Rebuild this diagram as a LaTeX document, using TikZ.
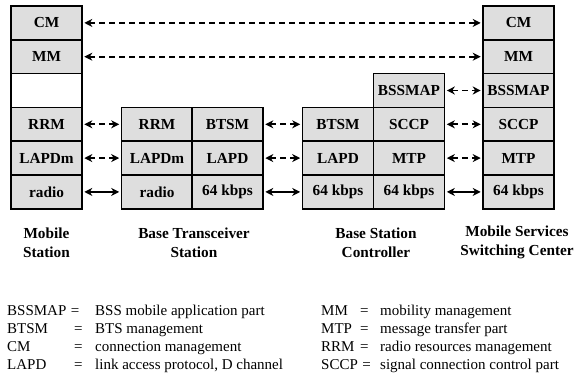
\documentclass[tikz,border=0pt]{standalone}
\usepackage{fontspec}
\setmainfont{Liberation Serif}
\usetikzlibrary{arrows.meta}
\begin{document}
\begin{tikzpicture}[x=1pt,y=-1pt,
  cell/.style={draw=black, line width=1.6pt, fill=black!13, minimum width=71pt, minimum height=33.8pt,
    inner sep=0pt, font=\fontsize{15.3}{17}\selectfont\bfseries},
  blankcell/.style={cell, fill=white},
  link/.style={line width=1.8pt, {Stealth[length=8pt,width=8pt,inset=2.5pt]}-{Stealth[length=8pt,width=8pt,inset=2.5pt]}, shorten <=1.5pt, shorten >=1.5pt},
  dlink/.style={link, dash pattern=on 6pt off 4pt},
  caption/.style={align=center, font=\fontsize{15.3}{19}\selectfont\bfseries, inner sep=0pt},
  leg/.style={anchor=base west, inner sep=0pt, font=\fontsize{15}{17}\selectfont}
]
\useasboundingbox (0,0) rectangle (575,374);
% Mobile Station
\node[cell] (msCM) at (46.5,22.9) {CM};
\node[cell] (msMM) at (46.5,56.7) {MM};
\node[blankcell] (msX) at (46.5,90.5) {};
\node[cell] (msRRM) at (46.5,124.3) {RRM};
\node[cell] (msLAPDm) at (46.5,158.1) {LAPDm};
\node[cell] (msRadio) at (46.5,191.9) {radio};
% BTS
\node[cell] (btsRRM) at (157,124.3) {RRM};
\node[cell] (btsLAPDm) at (157,158.1) {LAPDm};
\node[cell] (btsRadio) at (157,191.9) {radio};
\node[cell] (btsBTSM) at (227.5,124.3) {BTSM};
\node[cell] (btsLAPD) at (227.5,158.1) {LAPD};
\node[cell] (btsK) at (227.5,191.9) {64 kbps};
% BSC
\node[cell] (bscBTSM) at (338,124.3) {BTSM};
\node[cell] (bscLAPD) at (338,158.1) {LAPD};
\node[cell] (bscK) at (338,191.9) {64 kbps};
\node[cell] (bscBSSMAP) at (409,90.5) {BSSMAP};
\node[cell] (bscSCCP) at (409,124.3) {SCCP};
\node[cell] (bscMTP) at (409,158.1) {MTP};
\node[cell] (bscK2) at (409,191.9) {64 kbps};
% MSC
\node[cell] (mscCM) at (518.5,22.9) {CM};
\node[cell] (mscMM) at (518.5,56.7) {MM};
\node[cell] (mscBSSMAP) at (518.5,90.5) {BSSMAP};
\node[cell] (mscSCCP) at (518.5,124.3) {SCCP};
\node[cell] (mscMTP) at (518.5,158.1) {MTP};
\node[cell] (mscK) at (518.5,191.9) {64 kbps};
% links
\draw[dlink] (msCM.east) -- (mscCM.west);
\draw[dlink] (msMM.east) -- (mscMM.west);
\draw[dlink] (msRRM.east) -- (btsRRM.west);
\draw[dlink] (msLAPDm.east) -- (btsLAPDm.west);
\draw[link] (msRadio.east) -- (btsRadio.west);
\draw[dlink] (btsBTSM.east) -- (bscBTSM.west);
\draw[dlink] (btsLAPD.east) -- (bscLAPD.west);
\draw[link] (btsK.east) -- (bscK.west);
\draw[dlink] (bscBSSMAP.east) -- (mscBSSMAP.west);
\draw[dlink] (bscSCCP.east) -- (mscSCCP.west);
\draw[dlink] (bscMTP.east) -- (mscMTP.west);
\draw[link] (bscK2.east) -- (mscK.west);
% captions
\node[caption] (capMS) at (46.5,242.5) {Mobile\\Station};
\node[caption] (capBTS) at (194,242.5) {Base Transceiver\\Station};
\node[caption] (capBSC) at (376,242.5) {Base Station\\Controller};
\node[caption] (capMSC) at (517,242.5) {Mobile Services\\Switching Center};
% legend
\node[leg] (a1) at (7,315.5) {BSSMAP};
\node[leg] (e1) at ([xshift=4pt]a1.base east) {=};
\node[leg] (d1) at (95,315.5) {BSS mobile application part};
\node[leg] (a2) at (7,333.6) {BTSM};
\node[leg] (e2) at (74,333.6) {=};
\node[leg] (d2) at (95,333.6) {BTS management};
\node[leg] (a3) at (7,351.7) {CM};
\node[leg] (e3) at (74,351.7) {=};
\node[leg] (d3) at (95,351.7) {connection management};
\node[leg] (a4) at (7,369.8) {LAPD};
\node[leg] (e4) at (74,369.8) {=};
\node[leg] (d4) at (95,369.8) {link access protocol, D channel};
\node[leg] (a5) at (321,315.5) {MM};
\node[leg] (e5) at (360,315.5) {=};
\node[leg] (d5) at (380,315.5) {mobility management};
\node[leg] (a6) at (321,333.6) {MTP};
\node[leg] (e6) at (360,333.6) {=};
\node[leg] (d6) at (380,333.6) {message transfer part};
\node[leg] (a7) at (321,351.7) {RRM};
\node[leg] (e7) at (360,351.7) {=};
\node[leg] (d7) at (380,351.7) {radio resources management};
\node[leg] (a8) at (321,369.8) {SCCP};
\node[leg] (e8) at ([xshift=4pt]a8.base east) {=};
\node[leg] (d8) at (380,369.8) {signal connection control part};
\end{tikzpicture}
\end{document}
